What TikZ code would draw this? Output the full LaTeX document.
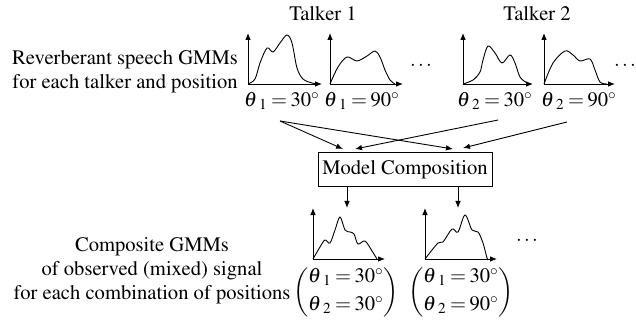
\documentclass[tikz,border=0pt]{standalone}
\usepackage[T1]{fontenc}
\usepackage{mathptmx}
\usetikzlibrary{arrows.meta}
\newcommand\eqa[2]{{\theta\mkern1.5mu}_{#1}\mskip3mu{=}\mskip3mu#2^\circ}
\newcommand\angl[2]{$\eqa{#1}{#2}$}
\begin{document}
\begin{tikzpicture}[x=0.5pt,y=-0.5pt,
  every node/.style={font=\fontsize{10.3}{12}\selectfont, inner sep=0pt},
  conn/.style={-{Latex[length=3.5pt,width=2.8pt]}, line width=0.45pt},
  axis/.style={{Latex[length=3.5pt,width=2.8pt]}-{Latex[length=3.5pt,width=2.8pt]}, line width=0.45pt},
  curve/.style={line width=0.45pt, smooth, tension=0.55},
  mbox/.style={draw, line width=0.5pt, minimum width=87pt, minimum height=17pt}]
\useasboundingbox (0,0) rectangle (636,320);

% left texts
\node[align=center] (lt) at (125,72) {Reverberant speech GMMs\\for each talker and position};
\node[align=center] (lb) at (152,271) {Composite GMMs\\of observed (mixed) signal\\for each combination of positions};

% talker labels
\node (tk1) at (323,14) {Talker 1};
\node (tk2) at (537,14) {Talker 2};

% top plots
\draw[axis] (248,33) -- (248,84) -- (322,84);
\draw[curve] plot coordinates {(248,84) (255,79) (260,63) (267,48) (273,52) (280,43) (287,35) (292,43) (297,68) (303,79) (312,83) (318,84)};
\draw[axis] (330,33) -- (330,84) -- (403,84);
\draw[curve] plot coordinates {(330,84) (338,67) (347,57) (357,61) (367,56) (375,51) (380,57) (385,70) (390,80) (395,84)};
\draw[axis] (463,33) -- (463,84) -- (533,84);
\draw[curve] plot coordinates {(463,84) (473,80) (480,72) (483,60) (488,46) (495,53) (502,63) (510,55) (515,63) (520,77) (527,83) (529,84)};
\draw[axis] (544,33) -- (544,84) -- (615,84);
\draw[curve] plot coordinates {(544,84) (553,63) (565,51) (573,55) (580,61) (590,59) (595,70) (600,82) (607,84)};

\node (d1) at (421,66) {$\cdots$};
\node (d2) at (625,66) {$\cdots$};

% top labels
\node (l1) at (282,101) {\angl{1}{30}};
\node (l2) at (362,101) {\angl{1}{90}};
\node (l3) at (495,101) {\angl{2}{30}};
\node (l4) at (579,101) {\angl{2}{90}};

% box
\node[mbox] (mc) at (405,170) {Model Composition};

\coordinate (s1) at (280,121);
\coordinate (s3) at (498,120);
\coordinate (s4) at (567,122);
\coordinate (t1) at (343,149);
\coordinate (t2) at (453,149);
\coordinate (t3) at (355,149);
\coordinate (t4) at (463,148);
\draw[conn] (s1) -- (t1);
\draw[conn] (s1) -- (t2);
\draw[conn] (s3) -- (t3);
\draw[conn] (s4) -- (t4);

\coordinate (b1) at (347,208);
\coordinate (b2) at (458,208);
\draw[conn] (mc.south -| b1) -- (b1);
\draw[conn] (mc.south -| b2) -- (b2);

% bottom plots
\draw[axis] (313,208) -- (313,259) -- (385,259);
\draw[curve] plot coordinates {(313,259) (320,247) (325,240) (330,243) (335,230) (340,217) (345,230) (350,232) (354,234) (358,244) (365,241) (372,251) (377,259)};
\draw[axis] (425,208) -- (425,259) -- (497,259);
\draw[curve] plot coordinates {(425,259) (438,243) (443,242) (452,229) (458,232) (465,215) (472,230) (478,232) (483,243) (487,258) (488,259)};

\node (d3) at (527,241) {$\cdots$};

% bottom labels
\node (m1) at (346,292) {$\left(\begin{array}{@{}c@{}}\eqa{1}{30}\\[2pt]\eqa{2}{30}\end{array}\right)$};
\node (m2) at (461,292) {$\left(\begin{array}{@{}c@{}}\eqa{1}{30}\\[2pt]\eqa{2}{90}\end{array}\right)$};
\end{tikzpicture}
\end{document}
